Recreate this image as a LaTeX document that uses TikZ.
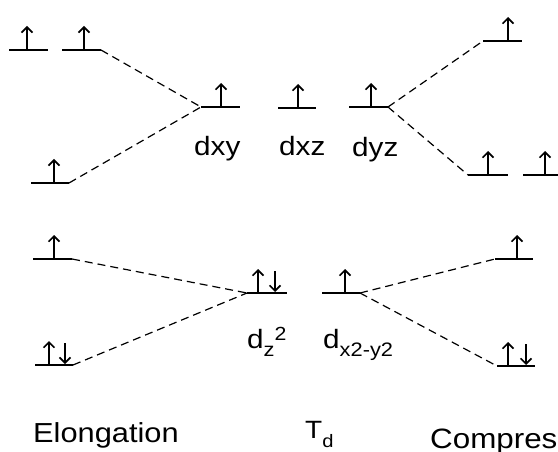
\documentclass[tikz,border=0pt]{standalone}
\usepackage{fontspec}
\setmainfont[FakeStretch=1.12]{Liberation Sans}
\usetikzlibrary{arrows.meta}
\newcommand\mkLevel[4]{%
  \coordinate (#1-l) at (#2,#4);
  \coordinate (#1-r) at (#3,#4);
  \draw[level] (#1-l) -- (#1-r);}
\newcommand\spinUp[2]{\draw[spin] (#1,#2) -- (#1,{#2-24});}
\newcommand\spinDown[2]{\draw[spin] (#1,{#2-22}) -- (#1,{#2-1});}
\newcommand\mySub[1]{\raisebox{-8pt}{\fontsize{19.5}{20}\selectfont #1}}
\newcommand\mySup[1]{\raisebox{8pt}{\fontsize{19}{20}\selectfont #1}}
\begin{document}
\begin{tikzpicture}[x=1pt,y=-1pt,
  level/.style={line width=1.9pt},
  conn/.style={dash pattern=on 8pt off 5pt, line width=1.2pt},
  spin/.style={line width=1.6pt, -{Straight Barb[length=5.5pt,width=11pt,line width=1.6pt]}},
  lab/.style={inner sep=0pt, anchor=base west, font=\fontsize{26.5}{30}\selectfont},
  big/.style={inner sep=0pt, anchor=base west, font=\fontsize{27.5}{32}\selectfont}]
\useasboundingbox (0,0) rectangle (558,452);
% ---- upper set ----
\mkLevel{ea}{9}{48}{50}      \spinUp{27}{50}
\mkLevel{eb}{62}{101}{50}    \spinUp{84}{50}
\mkLevel{ec}{31}{69}{183}    \spinUp{54}{183}
\mkLevel{xy}{201}{240}{107}  \spinUp{221}{107}
\mkLevel{xz}{278}{316}{108}  \spinUp{298}{108}
\mkLevel{yz}{349}{388}{107}  \spinUp{371}{107}
\mkLevel{ca}{483}{522}{41}   \spinUp{508}{41}
\mkLevel{cb}{468}{508}{175}  \spinUp{488}{175}
\mkLevel{cc}{523}{562}{175}  \spinUp{545}{175}
\draw[conn] (eb-r) -- (xy-l);
\draw[conn] (ec-r) -- (xy-l);
\draw[conn] (yz-r) -- (ca-l);
\draw[conn] (yz-r) -- (cb-l);
\node[lab] (lxy) at (194,156) {dxy};
\node[lab] (lxz) at (279,156) {dxz};
\node[lab] (lyz) at (352,157) {dyz};
% ---- lower set ----
\mkLevel{ed}{33}{72}{259}    \spinUp{54}{259}
\mkLevel{ee}{35}{73}{365}    \spinUp{49}{365} \spinDown{65}{365}
\mkLevel{zz}{247}{287}{293}  \spinUp{258}{293} \spinDown{275}{293}
\mkLevel{xx}{322}{360}{293}  \spinUp{345}{293}
\mkLevel{cd}{495}{533}{259}  \spinUp{517}{259}
\mkLevel{ce}{497}{535}{366}  \spinUp{508}{366} \spinDown{526}{366}
\draw[conn] (ed-r) -- (zz-l);
\draw[conn] (ee-r) -- (zz-l);
\draw[conn] (xx-r) -- (cd-l);
\draw[conn] (xx-r) -- (ce-l);
\node[lab] (lz2) at (247,348) {d\mySub{z}\mySup{2}};
\node[lab] (lx2) at (323,348) {d\mySub{x2-y2}};
% ---- bottom labels ----
\node[big] (elong) at (33,442) {Elongation};
\node[inner sep=0pt, anchor=base west, font=\fontsize{25}{30}\selectfont] (td) at (305,438) {T\raisebox{-9pt}{\fontsize{18}{20}\selectfont d}};
\node[big, font=\fontsize{28}{32}\selectfont] (comp) at (430,448) {Compression};
\end{tikzpicture}
\end{document}
